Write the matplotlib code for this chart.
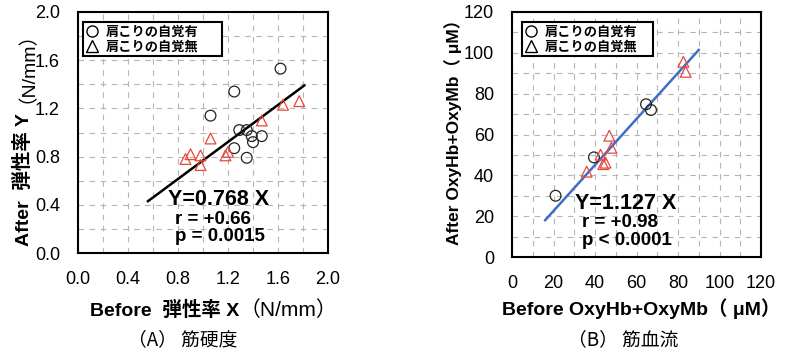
import matplotlib
matplotlib.use("Agg")
import matplotlib.pyplot as plt
from matplotlib.lines import Line2D

plt.rcParams['font.family'] = ['Liberation Sans', 'Noto Sans CJK JP', 'DejaVu Sans']

# (A) muscle hardness, N/mm
a_yes_x = [1.62, 1.25, 1.06, 1.29, 1.35, 1.39, 1.47, 1.40, 1.25, 1.35]
a_yes_y = [1.53, 1.34, 1.14, 1.02, 1.02, 0.97, 0.97, 0.92, 0.87, 0.79]
a_no_x = [1.77, 1.64, 1.47, 1.06, 1.20, 1.18, 0.98, 0.90, 0.86, 0.98]
a_no_y = [1.26, 1.23, 1.10, 0.95, 0.84, 0.81, 0.81, 0.82, 0.78, 0.73]
a_fit_x = [0.56, 1.81]
a_slope = 0.768

# (B) muscle blood flow, uM
b_yes_x = [21, 39.5, 64.6, 67.0]
b_yes_y = [30, 48.8, 74.8, 72.0]
b_no_x = [82.6, 83.7, 46.9, 47.9, 42.7, 44.0, 45.1, 36.0]
b_no_y = [95.6, 90.7, 59.4, 53.5, 50.1, 45.5, 46.2, 41.8]
b_fit_x = [16, 90]
b_slope = 1.127

legend_labels = ['肩こりの自覚有', '肩こりの自覚無']
red = '#e8473f'

fig = plt.figure(figsize=(7.87, 3.53), dpi=100)
axA = fig.add_axes([78 / 787, 1 - 253 / 353, 250 / 787, 241 / 353])
axB = fig.add_axes([512 / 787, 1 - 257 / 353, 249 / 787, 245 / 353])


def style(ax, lim, major, minor, fmt, leg_box):
    ax.set_xlim(0, lim)
    ax.set_ylim(0, lim)
    ax.set_xticks([i * major for i in range(int(round(lim / major)) + 1)])
    ax.set_yticks([i * major for i in range(int(round(lim / major)) + 1)])
    ax.set_xticks([i * minor for i in range(int(round(lim / minor)) + 1)], minor=True)
    ax.set_yticks([i * minor for i in range(int(round(lim / minor)) + 1)], minor=True)
    ax.xaxis.set_major_formatter(fmt)
    ax.yaxis.set_major_formatter(fmt)
    ax.grid(True, which='both', color='#b5b5b5', linestyle=(0, (5, 5)), linewidth=0.8)
    ax.set_axisbelow(True)
    ax.tick_params(which='both', length=0, labelsize=13, pad=13)
    for s in ax.spines.values():
        s.set_linewidth(1.5)
        s.set_color('black')
    handles = [
        Line2D([], [], marker='o', linestyle='none', markerfacecolor='none',
               markeredgecolor='black', markersize=8, markeredgewidth=1.0),
        Line2D([], [], marker='^', linestyle='none', markerfacecolor='none',
               markeredgecolor='black', markersize=8, markeredgewidth=1.0),
    ]
    leg = ax.legend(handles, legend_labels, loc='upper left',
                    bbox_to_anchor=leg_box, mode='expand', borderaxespad=0,
                    fancybox=False, framealpha=1, edgecolor='black',
                    prop={'family': 'Noto Sans CJK JP', 'weight': 'bold', 'size': 9.5},
                    handlelength=0.9, handletextpad=0.6, labelspacing=0.05,
                    borderpad=0.2)
    leg.get_frame().set_linewidth(1.5)


style(axA, 2.0, 0.4, 0.2, '{x:.1f}', (5 / 250, 0.5, 139 / 250, 1 - 10 / 241 - 0.5))
style(axB, 120, 20, 10, '{x:.0f}', (10 / 249, 0.5, 131 / 249, 1 - 10 / 245 - 0.5))

mk = dict(s=60, linewidths=0.9, zorder=3)
axA.scatter(a_yes_x, a_yes_y, marker='o', facecolors='none', edgecolors='#222222', **mk)
axA.scatter(a_no_x, a_no_y, marker='^', facecolors='none', edgecolors=red, **mk)
axA.plot(a_fit_x, [a_slope * v for v in a_fit_x], color='black', lw=1.8, zorder=2)

axB.scatter(b_yes_x, b_yes_y, marker='o', facecolors='none', edgecolors='#222222', **mk)
axB.scatter(b_no_x, b_no_y, marker='^', facecolors='none', edgecolors=red, **mk)
axB.plot(b_fit_x, [b_slope * v for v in b_fit_x], color='#3f6fc2', lw=1.8, zorder=2)

axA.text(0.72, 0.44, 'Y=0.768 X', fontsize=15.5, weight='bold', va='center')
axA.text(0.776, 0.28, 'r = +0.66', fontsize=13.5, weight='bold', va='center')
axA.text(0.776, 0.135, 'p = 0.0015', fontsize=13.5, weight='bold', va='center')

axB.text(30.4, 26.4, 'Y=1.127 X', fontsize=15.5, weight='bold', va='center')
axB.text(33.7, 17.1, 'r = +0.98', fontsize=13.5, weight='bold', va='center')
axB.text(33.7, 8.3, 'p < 0.0001', fontsize=13.5, weight='bold', va='center')

# axis labels (bold part + regular unit)
t1 = fig.text(90 / 787, 1 - 310 / 353, 'Before  弾性率 X', fontsize=14,
              weight='bold', ha='left', va='center')
axA.annotate('（N/mm）', xy=(1, 0.5), xycoords=t1, fontsize=15,
             ha='left', va='center', annotation_clip=False)

fig.text(23 / 787, 1 - 246 / 353, 'After  弾性率 Y', fontsize=14,
         weight='bold', rotation=90, ha='center', va='bottom')
fig.text(17 / 787, 1 - 12 / 353, '（N/mm）', fontsize=14,
         rotation=90, ha='center', va='top')

fig.text(641 / 787, 1 - 309 / 353, 'Before OxyHb+OxyMb（ μM）', fontsize=14,
         weight='bold', ha='center', va='center')
fig.text(453 / 787, 1 - 128 / 353, 'After OxyHb+OxyMb（ μM）', fontsize=12.5,
         weight='bold', rotation=90, ha='center', va='center')

fig.text(183 / 787, 1 - 340 / 353, '（A） 筋硬度', fontsize=13.5,
         family=['Noto Sans CJK JP'], ha='center', va='center')
fig.text(623 / 787, 1 - 340 / 353, '（B） 筋血流', fontsize=13.5,
         family=['Noto Sans CJK JP'], ha='center', va='center')

fig.savefig('out.png', dpi=100)
